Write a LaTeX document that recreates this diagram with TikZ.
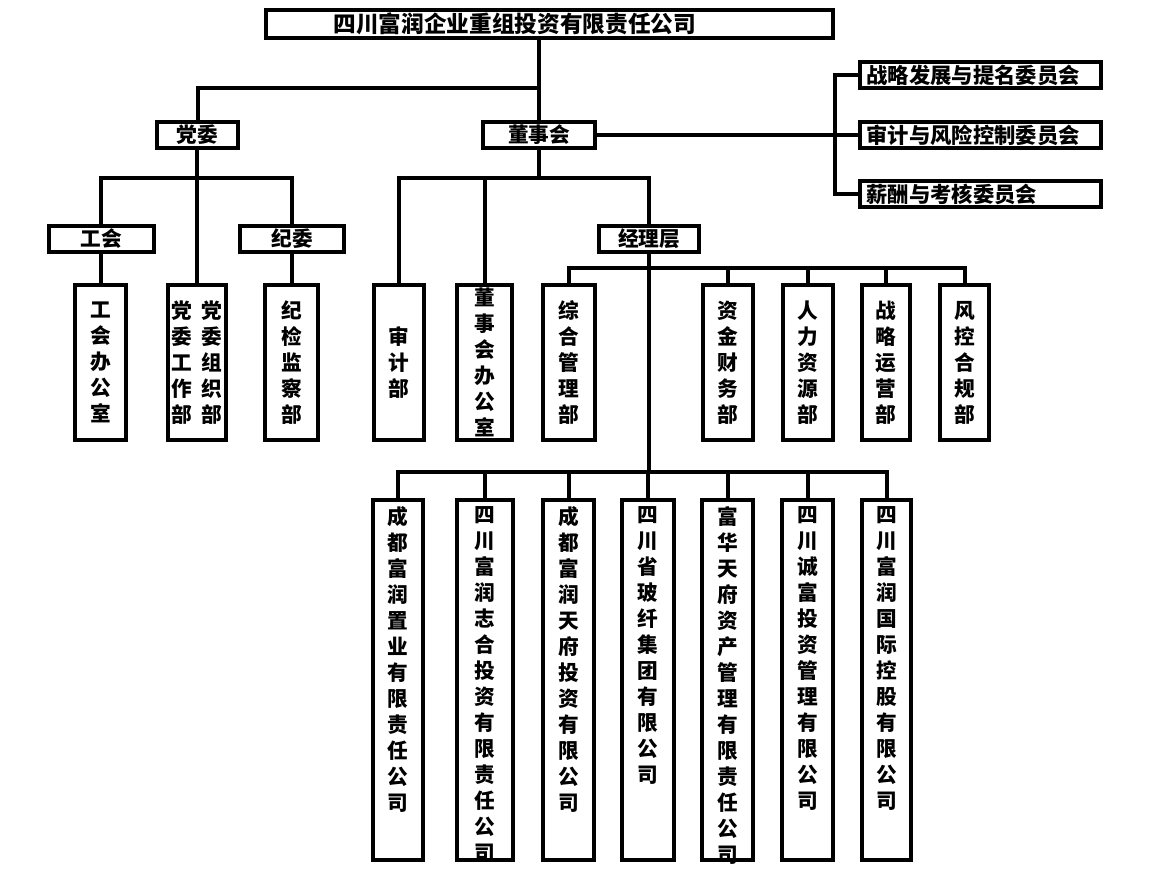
\documentclass[tikz,border=0pt]{standalone}
\usepackage{fontspec}
\newfontfamily\cjk{Noto Sans CJK SC}
\usetikzlibrary{positioning}

\tikzset{
  every node/.style={font=\cjk\bfseries\fontsize{15.5}{19.5}\selectfont},
  orgbox/.style 2 args={draw, line width=3pt, inner sep=0pt,
    minimum width=(#1-4)*0.75pt, minimum height=(#2-4)*0.75pt},
  deptbox/.style={orgbox={#1}{159}, align=center},
  firmbox/.style={orgbox={#1}{364}},
  firmtext/.style={align=center, anchor=north, inner sep=0pt},
  cttbox/.style={orgbox={245}{30}, align=left, text width=228*0.75pt,
    font=\cjk\bfseries\fontsize{16}{19.5}\selectfont},
  link/.style={line width=3pt},
}

\begin{document}
\begin{tikzpicture}[x=0.75pt, y=-0.75pt]
  \useasboundingbox (0,0) rectangle (1156,882);

  % top level
  \node[orgbox={571}{32}, font=\cjk\bfseries\fontsize{17}{20}\selectfont] (top) at (549.5,24)
    {四川富润企业重组投资有限责任公司\hspace*{52pt}};
  \node[orgbox={85}{30}] (dw) at (197.5,135) {党委};
  \node[orgbox={116}{30}] (dsh) at (539,135) {董事会};

  % committees
  \node[cttbox] (wy1) at (980.5,75) {战略发展与提名委员会};
  \node[cttbox] (wy2) at (980.5,135) {审计与风险控制委员会};
  \node[cttbox] (wy3) at (980.5,194) {薪酬与考核委员会};

  % second level
  \node[orgbox={109}{30}] (gh) at (101.5,239) {工会};
  \node[orgbox={108}{30}] (jw) at (292,239) {纪委};
  \node[orgbox={104}{30}] (jlc) at (649,239) {经理层};

  % departments
  \node[deptbox=55] (ghbgs) at (100.5,362.5) {工\\会\\办\\公\\室};
  \node[deptbox=62] (dwgz) at (197,362.5)
    {党\hspace{7pt}党\\委\hspace{7pt}委\\工\hspace{7pt}组\\作\hspace{7pt}织\\部\hspace{7pt}部};
  \node[deptbox=57] (jjjc) at (291.5,362.5) {纪\\检\\监\\察\\部};
  \node[deptbox=54] (sj) at (399,362.5) {审\\计\\部};
  \node[deptbox=59] (dshbgs) at (484.5,362.5) {董\\事\\会\\办\\公\\室};
  \node[deptbox=56] (zhgl) at (569,362.5) {综\\合\\管\\理\\部};
  \node[deptbox=54] (zjcw) at (728,362.5) {资\\金\\财\\务\\部};
  \node[deptbox=54] (rlzy) at (808,362.5) {人\\力\\资\\源\\部};
  \node[deptbox=52] (zlyy) at (886,362.5) {战\\略\\运\\营\\部};
  \node[deptbox=53] (fkhg) at (964.5,362.5) {风\\控\\合\\规\\部};

  % subsidiaries
  \node[firmbox=54] (c1) at (398,680) {};
  \node[firmbox=60] (c2) at (485,680) {};
  \node[firmbox=55] (c3) at (568.5,680) {};
  \node[firmbox=56] (c4) at (648,680) {};
  \node[firmbox=55] (c5) at (727.5,680) {};
  \node[firmbox=55] (c6) at (807.5,680) {};
  \node[firmbox=53] (c7) at (886.5,680) {};
  \node[firmtext] (c1t) at ([yshift=-6pt]c1.north) {成\\都\\富\\润\\置\\业\\有\\限\\责\\任\\公\\司};
  \node[firmtext] (c2t) at ([yshift=-6pt]c2.north) {四\\川\\富\\润\\志\\合\\投\\资\\有\\限\\责\\任\\公\\司};
  \node[firmtext] (c3t) at ([yshift=-6pt]c3.north) {成\\都\\富\\润\\天\\府\\投\\资\\有\\限\\公\\司};
  \node[firmtext] (c4t) at ([yshift=-6pt]c4.north) {四\\川\\省\\玻\\纤\\集\\团\\有\\限\\公\\司};
  \node[firmtext] (c5t) at ([yshift=-6pt]c5.north) {富\\华\\天\\府\\资\\产\\管\\理\\有\\限\\责\\任\\公\\司};
  \node[firmtext] (c6t) at ([yshift=-6pt]c6.north) {四\\川\\诚\\富\\投\\资\\管\\理\\有\\限\\公\\司};
  \node[firmtext] (c7t) at ([yshift=-6pt]c7.north) {四\\川\\富\\润\\国\\际\\控\\股\\有\\限\\公\\司};

  % bus levels
  \coordinate (b1) at (0,88);
  \coordinate (b2) at (0,178);
  \coordinate (b3) at (0,268);
  \coordinate (b4) at (0,472);
  \coordinate (cb) at (835,0);

  % links
  \draw[link] (dsh.north) -- (dsh.north |- top.south);
  \draw[link] (dw.north) |- (dsh.north |- b1);
  \draw[link] (dsh.east) -- (dsh.east -| cb);
  \draw[link] (wy1.west) -- (wy1.west -| cb) -- (wy3.west -| cb) -- (wy3.west);
  \draw[link] (wy2.west) -- (wy2.west -| cb);

  \draw[link] (dwgz.north) -- (dwgz.north |- dw.south);
  \draw[link] (ghbgs.north |- gh.north) |- (jjjc.north |- b2) -- (jjjc.north |- jw.north);
  \draw[link] (ghbgs.north) -- (ghbgs.north |- gh.south);
  \draw[link] (jjjc.north) -- (jjjc.north |- jw.south);

  \draw[link] (dsh.south) -- (dsh.south |- b2);
  \draw[link] (sj.north) |- (jlc.north |- b2) -- (jlc.north);
  \draw[link] (dshbgs.north) -- (dshbgs.north |- b2);

  \draw[link] (zhgl.north) |- (fkhg.north |- b3) -- (fkhg.north);
  \foreach \n in {zjcw, rlzy, zlyy}
    \draw[link] (\n.north) -- (\n.north |- b3);

  \draw[link] (jlc.south) -- (jlc.south |- b4);
  \draw[link] (c1.north) |- (c7.north |- b4) -- (c7.north);
  \foreach \n in {c2, c3, c5, c6}
    \draw[link] (\n.north) -- (\n.north |- b4);
  \draw[link] (c4.north) -- (c4.north |- b4);
\end{tikzpicture}
\end{document}
